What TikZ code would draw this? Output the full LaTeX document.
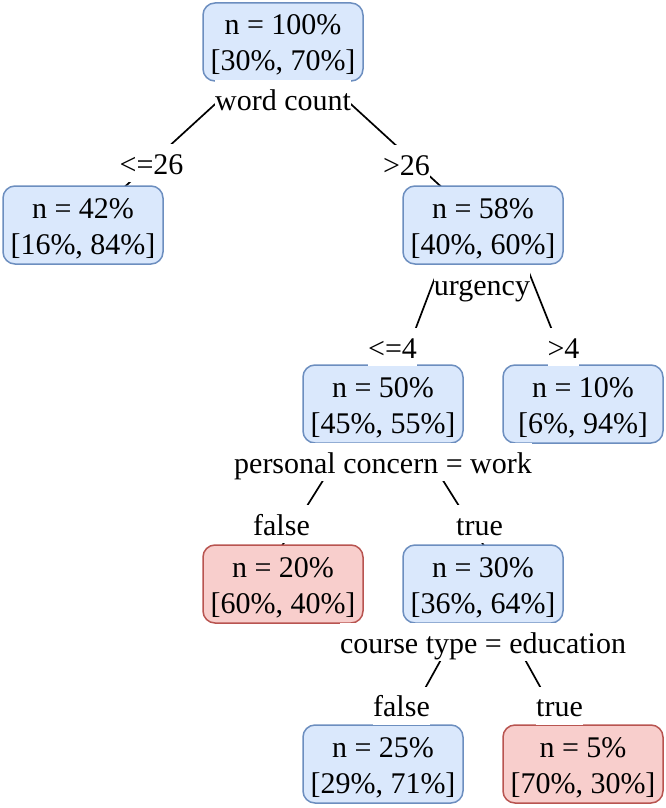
\documentclass[tikz,border=0pt]{standalone}
\usepackage{fontspec}
\setmainfont{Liberation Serif}
\definecolor{bfill}{HTML}{DAE8FC}
\definecolor{bdraw}{HTML}{6C8EBF}
\definecolor{rfill}{HTML}{F8CECC}
\definecolor{rdraw}{HTML}{B85450}
\newcommand\bxtext[2]{\parbox[c][78pt][t]{160pt}{\centering\rule{0pt}{32pt}#1\par #2\par}}
\begin{document}
\begin{tikzpicture}[x=1pt,y=-1pt,
  box/.style={rectangle, rounded corners=12pt, minimum width=160pt, minimum height=78pt,
    line width=1.5pt, inner sep=0pt, font=\fontsize{30}{36}\selectfont},
  bluebox/.style={box, fill=bfill, draw=bdraw},
  redbox/.style={box, fill=rfill, draw=rdraw},
  lbl/.style={fill=white, inner xsep=0pt, inner ysep=0pt, text height=30pt, text depth=8pt,
    font=\fontsize{30}{36}\selectfont, anchor=base},
  edgeline/.style={line width=1.7pt, black}]
\useasboundingbox (0,0) rectangle (666,808);
% boxes positions
\coordinate (c0) at (283,42);
\coordinate (c42) at (83,225);
\coordinate (c58) at (483,225);
\coordinate (c50) at (383,404);
\coordinate (c10) at (583,404);
\coordinate (c20) at (283,584);
\coordinate (c30) at (483,584);
\coordinate (c25) at (383,764);
\coordinate (c5) at (583,764);
% edge ends
\coordinate (e3a) at (455,225);
\coordinate (e3b) at (387,404);
\coordinate (e4a) at (510,225);
\coordinate (e4b) at (581.6,404);
\coordinate (e5a) at (371,404);
\coordinate (e5b) at (258,584);
\coordinate (e6a) at (395,404);
\coordinate (e6b) at (508,584);
% edges
\draw[edgeline] (c0) -- (c42);
\draw[edgeline] (c0) -- (c58);
\draw[edgeline] (e3a) -- (e3b);
\draw[edgeline] (e4a) -- (e4b);
\draw[edgeline] (e5a) -- (e5b);
\draw[edgeline] (e6a) -- (e6b);
\draw[edgeline] (c30) -- (c25);
\draw[edgeline] (c30) -- (c5);
% boxes
\node[bluebox] (n0) at (c0) {\bxtext{n = 100\%}{[30\%, 70\%]}};
\node[bluebox] (n42) at (c42) {\bxtext{n = 42\%}{[16\%, 84\%]}};
\node[bluebox] (n58) at (c58) {\bxtext{n = 58\%}{[40\%, 60\%]}};
\node[bluebox] (n50) at (c50) {\bxtext{n = 50\%}{[45\%, 55\%]}};
\node[bluebox] (n10) at (c10) {\bxtext{n = 10\%}{[6\%, 94\%]}};
\node[redbox] (n20) at (c20) {\bxtext{n = 20\%}{[60\%, 40\%]}};
\node[bluebox] (n30) at (c30) {\bxtext{n = 30\%}{[36\%, 64\%]}};
\node[bluebox] (n25) at (c25) {\bxtext{n = 25\%}{[29\%, 71\%]}};
\node[redbox] (n5) at (c5) {\bxtext{n = 5\%}{[70\%, 30\%]}};
% labels
\node[lbl] (wc) at (283,110) {word count};
\node[lbl] (l1) at (151.5,174) {<=26};
\node[lbl] (r1) at (406.5,175) {>26};
\node[lbl] (ug) at (482,295) {urgency};
\node[lbl] (l2) at (392.5,358) {<=4};
\node[lbl] (r2) at (563.5,358) {>4};
\node[lbl] (pc) at (383,473) {personal concern = work};
\node[lbl] (f1) at (281.5,535) {false};
\node[lbl] (t1) at (479.5,535) {true};
\node[lbl] (ct) at (483,653) {course type = education};
\node[lbl] (f2) at (401.5,716.5) {false};
\node[lbl] (t2) at (559.5,716.5) {true};
\end{tikzpicture}
\end{document}
